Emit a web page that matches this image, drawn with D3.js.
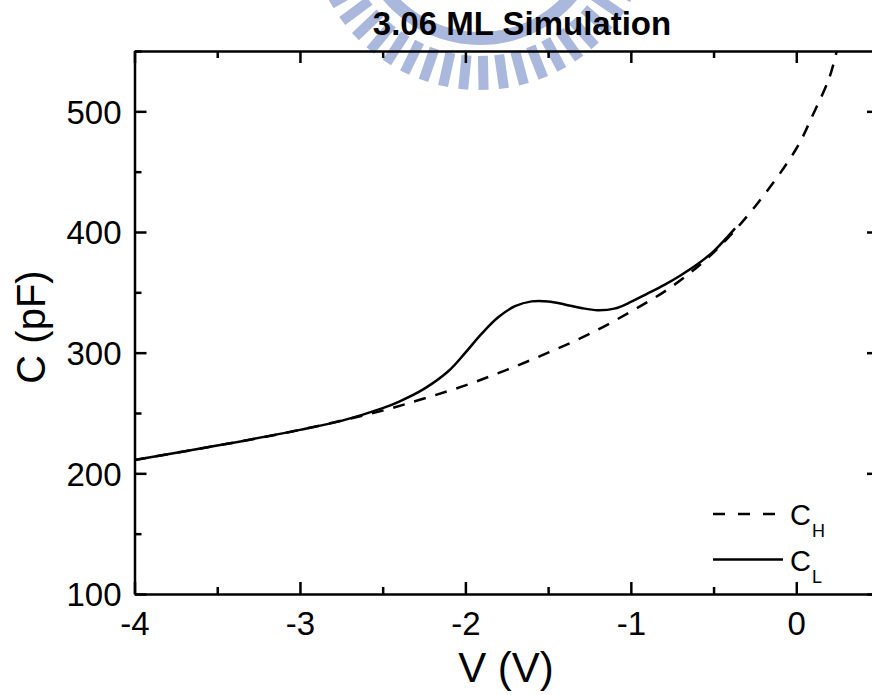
<!DOCTYPE html>
<html>
<head>
<meta charset="utf-8">
<script src="https://cdn.jsdelivr.net/npm/d3@7"></script>
<style>
  body { margin: 0; background: #fff; }
  svg { display: block; font-family: "Liberation Sans", Arial, sans-serif; }
</style>
</head>
<body>
<div id="chart"></div>
<script>
// data
var titleText = '3.06 ML Simulation'
var xLabel = 'V (V)'
var yLabel = 'C (pF)'
var xTicks = [-4, -3, -2, -1, 0]
var yTicks = [100, 200, 300, 400, 500]

// C_H (dashed)
var vHigh = [-4, -3.5, -3, -2.5, -2.25, -2, -1.75, -1.5, -1.25, -1, -0.75, -0.5, -0.25, 0, 0.1, 0.2, 0.25]
var cHigh = [211, 223, 236, 252, 262, 272.9, 285.8, 300, 315.5, 334, 355, 383, 421, 469, 497, 528, 553]

// C_L (solid)
var vLow = [-4, -3.5, -3, -2.75, -2.5, -2.4, -2.25, -2.1, -2, -1.9, -1.8, -1.7, -1.6, -1.5, -1.4, -1.3, -1.2, -1.1, -1, -0.9, -0.8, -0.7, -0.6, -0.5, -0.37]
var cLow = [211, 223, 236, 243.5, 254, 259.5, 270, 285, 300, 316, 329.5, 338.5, 342.5, 342.5, 340, 337, 335.2, 336.5, 342, 349, 356, 364, 373, 384, 403]

var seriesNames = ['H', 'L']

var width = 872
var height = 695
var margin = { top: 51, left: 134.5, right: -7, bottom: 101 }
var innerW = width - margin.left - margin.right
var innerH = height - margin.top - margin.bottom

var svg = d3.select('#chart')
  .append('svg')
  .attr('width', width)
  .attr('height', height)

// watermark logo behind the title
var logo = svg.append('g')
  .attr('transform', 'translate(480,-82)')
  .attr('fill', '#a9b8dc')
for (var a = 14; a <= 166; a += 6.8) {
  logo.append('rect')
    .attr('x', 138)
    .attr('y', -5)
    .attr('width', 34)
    .attr('height', 10)
    .attr('transform', 'rotate(' + a + ')')
}
logo.append('path')
  .attr('d', d3.arc().innerRadius(114).outerRadius(127).startAngle(Math.PI * 0.6).endAngle(Math.PI * 1.4)())

var x = d3.scaleLinear().domain([-4, 0.5]).range([0, innerW])
var y = d3.scaleLinear().domain([100, 550]).range([innerH, 0])

var g = svg.append('g')
  .attr('transform', 'translate(' + margin.left + ',' + margin.top + ')')

g.append('clipPath').attr('id', 'clip')
  .append('rect').attr('width', innerW).attr('height', innerH)

var xMinor = d3.range(-4, 0.51, 0.5).filter(function(d) { return xTicks.indexOf(d) < 0 })
var yMinor = d3.range(150, 551, 100)

function tickAxis(axisFn, scale, values, size, labels) {
  return axisFn(scale).tickValues(values).tickSize(size).tickSizeOuter(0)
    .tickFormat(labels ? function(d) { return String(d) } : '')
}

// bottom
g.append('g').attr('class', 'axis xa').attr('transform', 'translate(0,' + innerH + ')')
  .call(tickAxis(d3.axisBottom, x, xTicks, -12, true))
g.append('g').attr('class', 'axis minor').attr('transform', 'translate(0,' + innerH + ')')
  .call(tickAxis(d3.axisBottom, x, xMinor, -7, false))
// top
g.append('g').attr('class', 'axis')
  .call(tickAxis(d3.axisTop, x, xTicks, -12, false))
g.append('g').attr('class', 'axis minor')
  .call(tickAxis(d3.axisTop, x, xMinor, -7, false))
// left
g.append('g').attr('class', 'axis ya')
  .call(tickAxis(d3.axisLeft, y, yTicks, -12, true))
g.append('g').attr('class', 'axis minor')
  .call(tickAxis(d3.axisLeft, y, yMinor, -7, false))
// right
g.append('g').attr('class', 'axis').attr('transform', 'translate(' + innerW + ',0)')
  .call(tickAxis(d3.axisRight, y, yTicks, -12, false))
g.append('g').attr('class', 'axis minor').attr('transform', 'translate(' + innerW + ',0)')
  .call(tickAxis(d3.axisRight, y, yMinor, -7, false))

g.selectAll('.axis path, .axis line').attr('stroke', '#000').attr('stroke-width', 2.5)
g.selectAll('.axis text').attr('fill', '#000').attr('font-size', 33)
  .attr('font-family', '"Liberation Sans", Arial, sans-serif')
g.selectAll('.axis.minor path').remove()
g.selectAll('.xa text').attr('y', 18).attr('dy', '0.71em')
g.selectAll('.ya text').attr('x', -13).attr('dy', '0.36em')

// curves
var line = d3.line()
  .x(function(d) { return x(d[0]) })
  .y(function(d) { return y(d[1]) })
  .curve(d3.curveCatmullRom.alpha(0.5))

var highPts = vHigh.map(function(v, i) { return [v, cHigh[i]] })
var lowPts = vLow.map(function(v, i) { return [v, cLow[i]] })

var plot = g.append('g').attr('clip-path', 'url(#clip)')
plot.append('path').datum(highPts)
  .attr('d', line).attr('fill', 'none').attr('stroke', '#000')
  .attr('stroke-width', 2.5).attr('stroke-dasharray', '12,10')
plot.append('path').datum(lowPts)
  .attr('d', line).attr('fill', 'none').attr('stroke', '#000')
  .attr('stroke-width', 2.5)

// legend
var legend = svg.append('g').attr('transform', 'translate(713,514)')
seriesNames.forEach(function(name, i) {
  var row = legend.append('g').attr('transform', 'translate(0,' + i * 45.5 + ')')
  row.append('line').attr('x1', 0).attr('x2', i === 0 ? 64 : 70)
    .attr('stroke', '#000').attr('stroke-width', 2.5)
    .attr('stroke-dasharray', i === 0 ? '12,13' : null)
  var t = row.append('text').attr('x', 77).attr('y', 11).attr('font-size', 29)
  t.append('tspan').text('C')
  t.append('tspan').attr('font-size', 18).attr('dx', 1).attr('dy', 12).text(name)
})

// title and axis labels
svg.append('text').attr('x', 522).attr('y', 35)
  .attr('text-anchor', 'middle').attr('font-size', 33).attr('font-weight', 'bold')
  .text(titleText)
svg.append('text').attr('x', 506).attr('y', 682)
  .attr('text-anchor', 'middle').attr('font-size', 42)
  .text(xLabel)
svg.append('text').attr('transform', 'translate(45,327) rotate(-90)')
  .attr('text-anchor', 'middle').attr('font-size', 40)
  .text(yLabel)
</script>
</body>
</html>
